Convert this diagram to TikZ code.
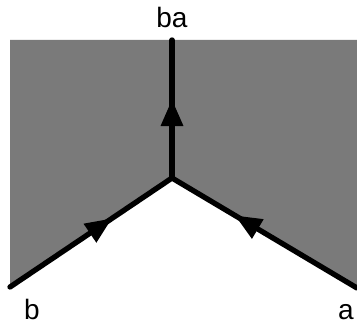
\documentclass[tikz,border=0pt]{standalone}
\usepackage{fontspec}
\setmainfont{Liberation Sans}
\usetikzlibrary{arrows.meta,decorations.markings}

\begin{document}
\begin{tikzpicture}[x=0.75pt,y=-0.75pt,
		branch/.style={line width=4pt,line cap=round,line join=round},
		midarrow/.style={postaction={decorate},decoration={markings,
			mark=at position #1 with {\arrow{Triangle[length=20pt,width=16pt]}}}},
		lbl/.style={anchor=base,inner sep=0pt,font=\fontsize{21}{25}\selectfont}]
			\useasboundingbox (0,0) rectangle (357,324);
			\coordinate (v) at (172,178);
			\coordinate (top) at (172,40);
			\coordinate (bl) at (10,287);
			\coordinate (br) at (357,288);
			\fill[black!52] (bl) |- (top) -| (br) -- (v) -- cycle;
			\draw[branch,midarrow=0.57] (v) -- (top);
			\draw[branch,midarrow=0.63] (bl) -- (v);
			\draw[branch,midarrow=0.66] (br) -- (v);
			\node[lbl] (nba) at (172,28) {ba};
			\node[lbl] (nb) at (32,319) {b};
			\node[lbl] (na) at (346,319) {a};
		\end{tikzpicture}
\end{document}
